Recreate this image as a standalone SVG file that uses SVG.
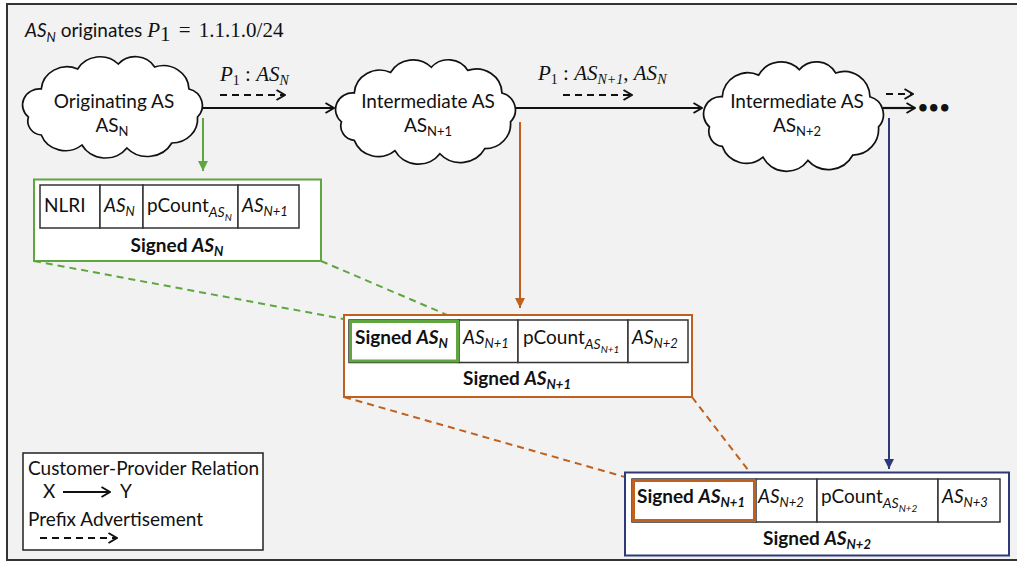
<svg xmlns="http://www.w3.org/2000/svg" xmlns:xlink="http://www.w3.org/1999/xlink" width="1017" height="565" viewBox="0 0 1017 565">
<defs>
<style>
.t{font-family:Lato,"Liberation Sans",sans-serif;font-size:19px;fill:#111}
.b{font-weight:bold}
.i{font-style:italic}
.m{font-family:"Liberation Serif",serif;font-size:21px;fill:#111}
.mi{font-family:"Liberation Serif",serif;font-style:italic}
.cloud{fill:#fff;stroke:#111;stroke-width:1.6}
.cell{fill:#fff;stroke:#333;stroke-width:1.5}
.ln{fill:none;stroke:#111;stroke-width:2.2}
.dash{fill:none;stroke:#111;stroke-width:2.2;stroke-dasharray:7 5}
</style>
<path id="cloudp" d="M12,62 A16,16 0 0 1 24,34 A24,24 0 0 1 58,14 A24,24 0 0 1 96,9 A21,21 0 0 1 130,12 A24,24 0 0 1 162,34 A17,17 0 0 1 170,62 A24,24 0 0 1 146,88 A26,26 0 0 1 104,93 A25,25 0 0 1 62,90 A24,24 0 0 1 24,80 A14,14 0 0 1 12,62 Z"/>
<marker id="chev" viewBox="0 0 10 12" refX="9.5" refY="6" markerWidth="10" markerHeight="12" markerUnits="userSpaceOnUse" orient="auto">
<path d="M1,1 L9.5,6 L1,11" fill="none" stroke="#111" stroke-width="2"/>
</marker>
<marker id="triG" viewBox="0 0 10 10" refX="10" refY="5" markerWidth="10" markerHeight="10" markerUnits="userSpaceOnUse" orient="auto">
<path d="M0,0 L10,5 L0,10 Z" fill="#5fa640"/>
</marker>
<marker id="triO" viewBox="0 0 10 10" refX="10" refY="5" markerWidth="10" markerHeight="10" markerUnits="userSpaceOnUse" orient="auto">
<path d="M0,0 L10,5 L0,10 Z" fill="#c0601f"/>
</marker>
<marker id="triB" viewBox="0 0 10 10" refX="10" refY="5" markerWidth="10" markerHeight="10" markerUnits="userSpaceOnUse" orient="auto">
<path d="M0,0 L10,5 L0,10 Z" fill="#2e3a78"/>
</marker>
</defs>

<rect x="7" y="4" width="1020" height="556" fill="#f2f2f2" stroke="#333" stroke-width="2"/>

<g id="title">
<text x="25" y="37" class="t"><tspan class="i">AS</tspan><tspan class="i" font-size="13" dy="5">N</tspan><tspan dy="-5"> originates </tspan><tspan class="m mi">P</tspan><tspan class="m" font-size="14" dy="4">1</tspan><tspan class="m" dy="-4"> <tspan dx="3">=</tspan> <tspan dx="3">1.1.1.0/24</tspan></tspan></text>
</g>

<g id="connectors">
<line class="ln" x1="202" y1="108" x2="334" y2="108" marker-end="url(#chev)"/>
<line class="ln" x1="515" y1="108" x2="702" y2="108" marker-end="url(#chev)"/>
<line class="ln" x1="883" y1="108" x2="915" y2="108" marker-end="url(#chev)"/>
<line class="dash" x1="220" y1="95" x2="285" y2="95" marker-end="url(#chev)"/>
<line class="dash" x1="563" y1="95" x2="632" y2="95" marker-end="url(#chev)"/>
<line class="dash" x1="886" y1="94" x2="913" y2="94" marker-end="url(#chev)"/>
<line x1="203" y1="118" x2="203" y2="171" stroke="#5fa640" stroke-width="2" marker-end="url(#triG)"/>
<line x1="520" y1="122" x2="520" y2="308" stroke="#c0601f" stroke-width="2" marker-end="url(#triO)"/>
<line x1="889" y1="118" x2="889" y2="469" stroke="#2e3a78" stroke-width="2" marker-end="url(#triB)"/>
<line x1="34" y1="261" x2="349" y2="320" stroke="#5fa640" stroke-width="2" stroke-dasharray="7 5"/>
<line x1="321" y1="261" x2="459" y2="320" stroke="#5fa640" stroke-width="2" stroke-dasharray="7 5"/>
<line x1="344" y1="397" x2="632" y2="479" stroke="#c0601f" stroke-width="2" stroke-dasharray="7 5"/>
<line x1="692" y1="397" x2="755" y2="479" stroke="#c0601f" stroke-width="2" stroke-dasharray="7 5"/>
<text x="220" y="81" class="m"><tspan class="mi">P</tspan><tspan font-size="14" dy="4">1</tspan><tspan dy="-4"> : </tspan><tspan class="mi">AS</tspan><tspan class="mi" font-size="14" dy="4">N</tspan></text>
<text x="538" y="80" class="m"><tspan class="mi">P</tspan><tspan font-size="14" dy="4">1</tspan><tspan dy="-4"> : </tspan><tspan class="mi">AS</tspan><tspan class="mi" font-size="14" dy="4">N+1</tspan><tspan dy="-4">, </tspan><tspan class="mi">AS</tspan><tspan class="mi" font-size="14" dy="4">N</tspan></text>
<text x="918" y="113" font-family="Lato,sans-serif" font-size="17" font-weight="bold" fill="#111" letter-spacing="1">•••</text>
</g>

<g id="as-n">
<use xlink:href="#cloudp" class="cloud" transform="translate(15.6,55) scale(1.07,1)"/>
<text x="114" y="108" class="t" text-anchor="middle">Originating AS</text>
<text x="112" y="132" class="t" text-anchor="middle">AS<tspan font-size="13" dy="4">N</tspan></text>
</g>

<g id="as-n1">
<use xlink:href="#cloudp" class="cloud" transform="translate(328.6,58) scale(1.07,1.03)"/>
<text x="428" y="108" class="t" text-anchor="middle">Intermediate AS</text>
<text x="428" y="132" class="t" text-anchor="middle">AS<tspan font-size="13" dy="4">N+1</tspan></text>
</g>

<g id="as-n2">
<use xlink:href="#cloudp" class="cloud" transform="translate(696.6,60) scale(1.07,1.08)"/>
<text x="797" y="108" class="t" text-anchor="middle">Intermediate AS</text>
<text x="797" y="132" class="t" text-anchor="middle">AS<tspan font-size="13" dy="4">N+2</tspan></text>
</g>

<g id="signed-n">
<rect x="34" y="179.5" width="287" height="81.5" fill="#fff" stroke="#5fa640" stroke-width="2"/>
<rect class="cell" x="40" y="185" width="60" height="43"/>
<rect class="cell" x="100" y="185" width="43" height="43"/>
<rect class="cell" x="143" y="185" width="95" height="43"/>
<rect class="cell" x="238" y="185" width="61" height="43"/>
<text x="44" y="212" class="t">NLRI</text>
<text x="104" y="212" class="t i">AS<tspan font-size="13" dy="4">N</tspan></text>
<text x="147" y="212" class="t">pCount<tspan class="i" font-size="14" dy="5">AS</tspan><tspan class="i" font-size="10" dy="4">N</tspan></text>
<text x="242" y="212" class="t i">AS<tspan font-size="13" dy="4">N+1</tspan></text>
<text x="177" y="252" class="t b" text-anchor="middle">Signed <tspan class="i">AS</tspan><tspan class="i" font-size="13" dy="4">N</tspan></text>
</g>

<g id="signed-n1">
<rect x="344" y="315" width="348" height="82" fill="#fff" stroke="#c0601f" stroke-width="2"/>
<rect class="cell" x="349" y="320" width="110" height="42.5"/>
<rect class="cell" x="459" y="320" width="59" height="42.5"/>
<rect class="cell" x="518" y="320" width="110" height="42.5"/>
<rect class="cell" x="628" y="320" width="60" height="42.5"/>
<rect x="350.5" y="321.5" width="107" height="39.5" fill="none" stroke="#5fa640" stroke-width="3"/>
<text x="355" y="344" class="t b">Signed <tspan class="i">AS</tspan><tspan class="i" font-size="13" dy="4">N</tspan></text>
<text x="463" y="344" class="t i">AS<tspan font-size="13" dy="4">N+1</tspan></text>
<text x="523" y="344" class="t">pCount<tspan class="i" font-size="14" dy="5">AS</tspan><tspan class="i" font-size="10" dy="4">N+1</tspan></text>
<text x="632" y="344" class="t i">AS<tspan font-size="13" dy="4">N+2</tspan></text>
<text x="517" y="385" class="t b" text-anchor="middle">Signed <tspan class="i">AS</tspan><tspan class="i" font-size="13" dy="4">N+1</tspan></text>
</g>

<g id="signed-n2">
<rect x="625" y="472.5" width="384" height="83" fill="#fff" stroke="#2e3a78" stroke-width="2"/>
<rect class="cell" x="632" y="479" width="124" height="43"/>
<rect class="cell" x="756" y="479" width="61" height="43"/>
<rect class="cell" x="817" y="479" width="121" height="43"/>
<rect class="cell" x="938" y="479" width="62" height="43"/>
<rect x="633.5" y="480.5" width="121" height="40" fill="none" stroke="#c0601f" stroke-width="3"/>
<text x="637" y="503" class="t b">Signed <tspan class="i">AS</tspan><tspan class="i" font-size="13" dy="4">N+1</tspan></text>
<text x="758" y="503" class="t i">AS<tspan font-size="13" dy="4">N+2</tspan></text>
<text x="821" y="503" class="t">pCount<tspan class="i" font-size="14" dy="5">AS</tspan><tspan class="i" font-size="10" dy="4">N+2</tspan></text>
<text x="942" y="503" class="t i">AS<tspan font-size="13" dy="4">N+3</tspan></text>
<text x="817" y="545" class="t b" text-anchor="middle">Signed <tspan class="i">AS</tspan><tspan class="i" font-size="13" dy="4">N+2</tspan></text>
</g>

<g id="legend">
<rect x="23" y="453" width="240" height="97" fill="#fff" stroke="#222" stroke-width="1.5"/>
<text x="28" y="475" class="t">Customer-Provider Relation</text>
<text x="43" y="498" class="t">X</text>
<line class="ln" x1="63" y1="492" x2="110" y2="492" marker-end="url(#chev)"/>
<text x="120" y="498" class="t">Y</text>
<text x="28" y="526" class="t">Prefix Advertisement</text>
<line class="dash" x1="40" y1="538" x2="117" y2="538" marker-end="url(#chev)"/>
</g>
</svg>
